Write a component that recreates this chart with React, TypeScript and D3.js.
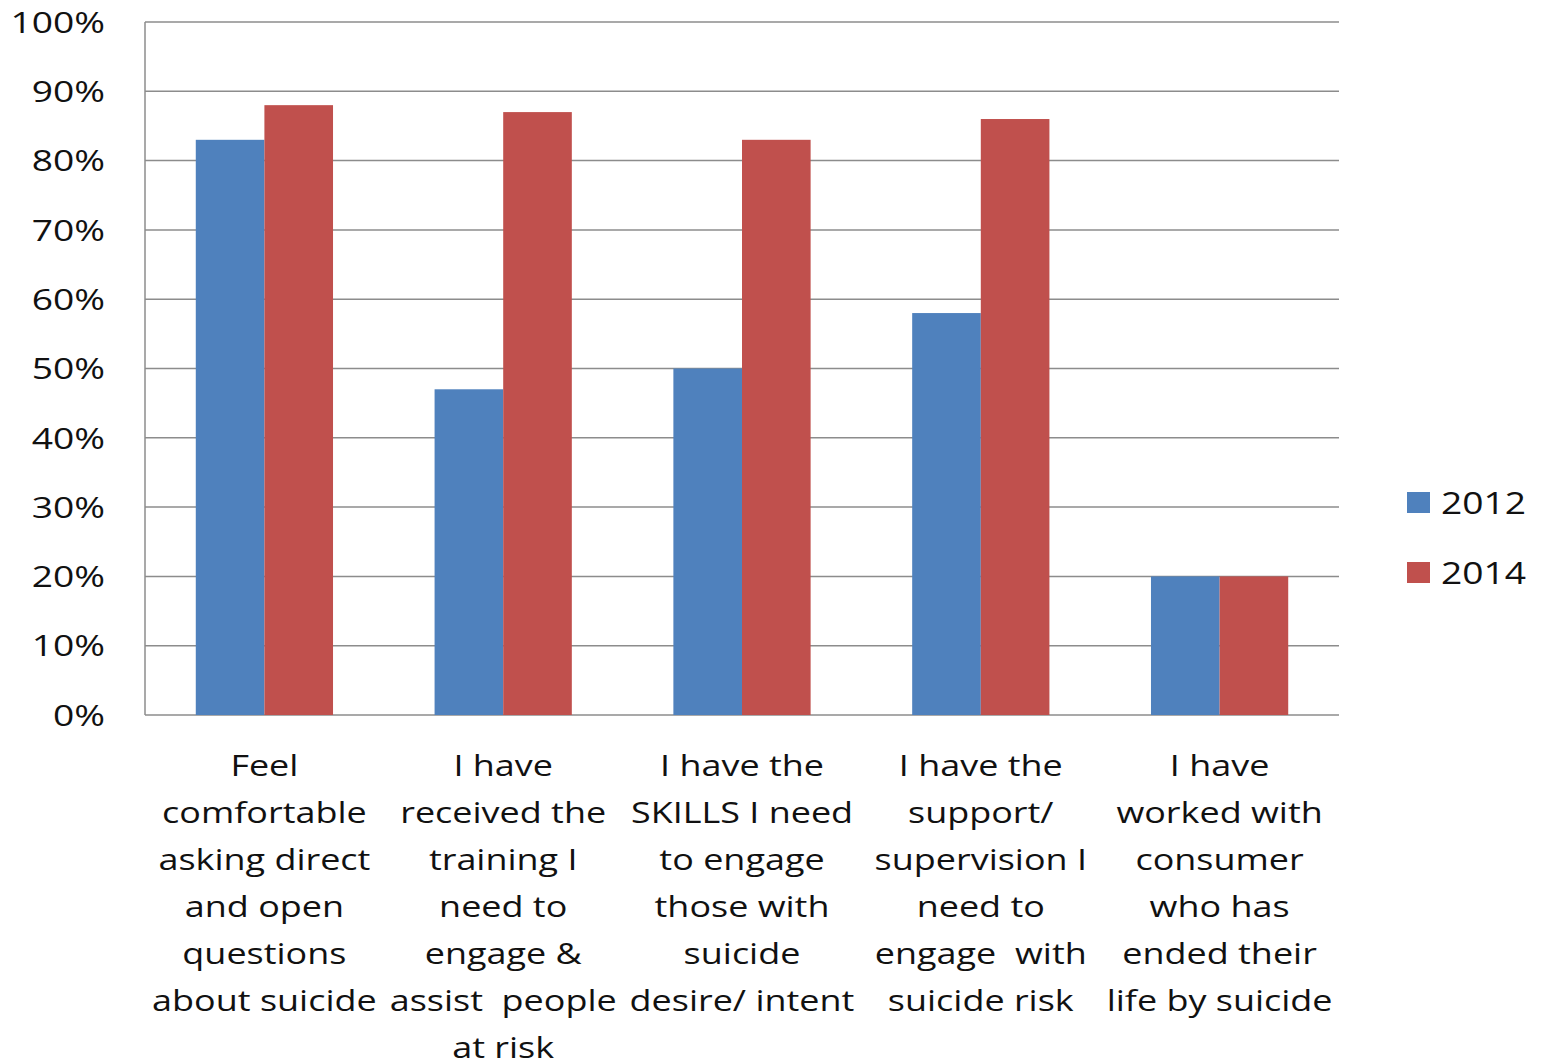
import * as d3 from "d3";
import React from "react";

const categories = [
  ["Feel", "comfortable", "asking direct", "and open", "questions", "about suicide"],
  ["I have", "received the", "training I", "need to", "engage &", "assist  people", "at risk"],
  ["I have the", "SKILLS I need", "to engage", "those with", "suicide", "desire/ intent"],
  ["I have the", "support/", "supervision I", "need to", "engage  with", "suicide risk"],
  ["I have", "worked with", "consumer", "who has", "ended their", "life by suicide"],
];
const series = ["2012", "2014"];
const values2012 = [0.83, 0.47, 0.5, 0.58, 0.2];
const values2014 = [0.88, 0.87, 0.83, 0.86, 0.2];
const yTicks = [0, 0.1, 0.2, 0.3, 0.4, 0.5, 0.6, 0.7, 0.8, 0.9, 1];
const colors = ["#4F81BD", "#C0504D"];

const W = 1541;
const H = 1064;
const left = 145;
const right = 1339;
const top = 22;
const bottom = 715;
const font = "'Open Sans', 'Noto Sans', sans-serif";
// the reference text is a little stretched sideways
const stretch = (cx: number, k: number) =>
  `translate(${cx},0) scale(${k},1) translate(${-cx},0)`;

const App: React.FC = () => {
  const keys = categories.map((_, i) => String(i));
  const x0 = d3.scaleBand().domain(keys).range([left, right]).padding(0);
  const x1 = d3
    .scaleBand()
    .domain(series)
    .range([0, x0.bandwidth()])
    .paddingInner(0)
    .paddingOuter(0.74);
  const y = d3.scaleLinear().domain([0, 1]).range([bottom, top]);
  const data = [values2012, values2014];

  return (
    <svg
      width={W}
      height={H}
      style={{ position: "absolute", left: 0, top: 0, background: "#fff" }}
      fontFamily={font}
    >
      {yTicks.map((t) => (
        <g key={t}>
          <line
            x1={left}
            x2={right}
            y1={y(t)}
            y2={y(t)}
            stroke="#8c8c8c"
            strokeWidth={1.5}
          />
          <text
            x={105}
            y={y(t)}
            dy="0.36em"
            textAnchor="end"
            fontSize={30}
            fill="#111"
            transform={stretch(105, 1.24)}
          >
            {d3.format(".0%")(t)}
          </text>
        </g>
      ))}
      <line x1={left} x2={left} y1={top} y2={bottom} stroke="#8c8c8c" strokeWidth={1.5} />
      {series.map((s, si) =>
        data[si].map((v, ci) => (
          <rect
            key={s + ci}
            x={(x0(String(ci)) || 0) + (x1(s) || 0)}
            y={y(v)}
            width={x1.bandwidth()}
            height={y(0) - y(v)}
            fill={colors[si]}
          />
        ))
      )}
      {categories.map((lines, ci) => {
        const cx = (x0(String(ci)) || 0) + x0.bandwidth() / 2;
        return (
          <text
            key={ci}
            textAnchor="middle"
            fontSize={29}
            fill="#111"
            style={{ whiteSpace: "pre" }}
            transform={stretch(cx, 1.24)}
          >
            {lines.map((ln, li) => (
              <tspan key={li} x={cx} y={776 + li * 47}>
                {ln}
              </tspan>
            ))}
          </text>
        );
      })}
      {series.map((s, si) => (
        <g key={s}>
          <rect x={1407} y={492 + si * 70} width={23} height={21} fill={colors[si]} />
          <text
            x={1441}
            y={503 + si * 70}
            dy="0.36em"
            fontSize={31}
            fill="#111"
            transform={stretch(1441, 1.2)}
          >
            {s}
          </text>
        </g>
      ))}
    </svg>
  );
};

export default App;
